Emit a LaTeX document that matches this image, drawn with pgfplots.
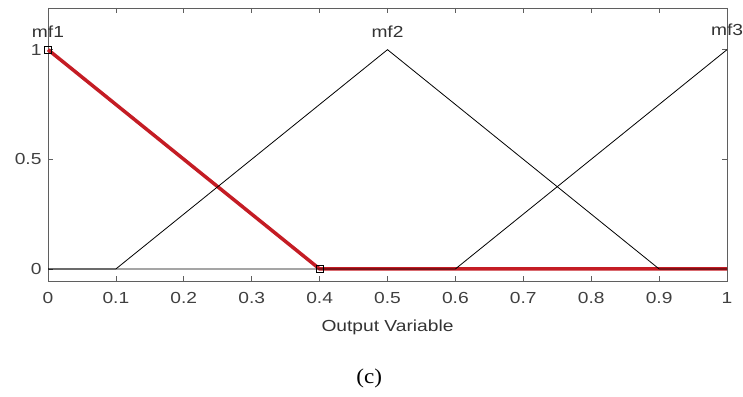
\documentclass[border=0pt]{standalone}
\usepackage{pgfplots}
\pgfplotsset{compat=1.18}
\usepackage{fontspec}
\setmainfont{Liberation Sans}[FakeStretch=1.2]
\newfontfamily\serifc{Liberation Serif}[FakeStretch=1.1]
\definecolor{mfred}{RGB}{196,28,36}
\definecolor{axgray}{RGB}{95,95,95}
\newcommand\lblfont{\fontsize{16}{19}\selectfont}
\begin{document}
\begin{tikzpicture}
\path[use as bounding box] (-48pt,-115pt) rectangle (695pt,281pt);
\begin{axis}[at={(0pt,0pt)}, anchor=south west, scale only axis,
  width=679pt, height=273pt,
  xmin=0, xmax=1, ymin=-0.055, ymax=1.19,
  xtick={0,0.1,0.2,0.3,0.4,0.5,0.6,0.7,0.8,0.9,1},
  ytick={0,0.5,1},
  tick align=inside, major tick length=5pt,
  axis line style={axgray, line width=0.8pt},
  tick style={axgray, line width=0.7pt},
  /pgf/number format/assume math mode=true,
  xticklabel style={font=\lblfont, text=black!75, yshift=-8pt},
  yticklabel style={font=\lblfont, text=black!75, xshift=-3pt},
  clip=false]
% mf1 (selected, red)
\addplot[mfred, line width=3.5pt, line join=round] coordinates {(0,1) (0.4,0) (1,0)};
% mf2
\addplot[black, line width=0.8pt] coordinates {(0,0) (0.1,0) (0.5,1) (0.9,0) (1,0)};
% mf3
\addplot[black, line width=0.8pt] coordinates {(0,0) (0.6,0) (1,1)};
% vertex markers of the selected function
\addplot[only marks, mark=square, mark size=3.5pt, mark options={black, line width=0.8pt, fill=none}] coordinates {(0,1) (0.4,0)};
\node[font=\lblfont, text=black!80] at (axis cs:0,1.08) {mf1};
\node[font=\lblfont, text=black!80] at (axis cs:0.5,1.08) {mf2};
\node[font=\lblfont, text=black!80] at (axis cs:1,1.09) {mf3};
\node[font=\lblfont, text=black!80] at (axis description cs:0.5,0) [yshift=-46pt] {Output Variable};
\node[font=\serifc\fontsize{21}{25}\selectfont] at (axis description cs:0.473,0) [yshift=-97pt] {(c)};
\end{axis}
\end{tikzpicture}
\end{document}
